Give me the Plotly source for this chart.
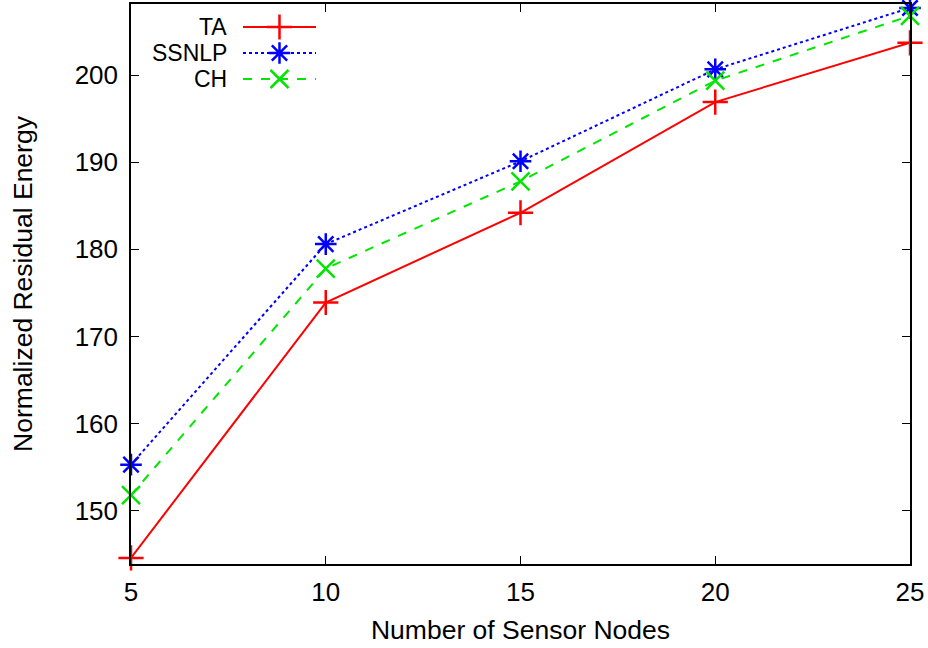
import plotly.graph_objects as go

nodes = [5, 10, 15, 20, 25]
ta = [144.6, 173.9, 184.2, 196.9, 203.7]
ssnlp = [155.3, 180.6, 190.1, 200.65, 207.7]
ch = [151.8, 177.8, 187.8, 199.35, 206.8]
series_names = ["TA", "SSNLP", "CH"]
y_ticks = [150, 160, 170, 180, 190, 200]

FONT = "Liberation Sans, Arial, sans-serif"
styles = [
    dict(color="#ff0000", dash="solid", symbol="cross-thin-open"),
    dict(color="#0000ff", dash="dot", symbol="asterisk-open"),
    dict(color="#00e600", dash="dash", symbol="x-thin-open"),
]

def marker_for(st):
    return dict(symbol=st["symbol"], size=18, color=st["color"],
                line=dict(color=st["color"], width=2.5))

fig = go.Figure()
for name, vals, st in zip(series_names, [ta, ssnlp, ch], styles):
    fig.add_trace(go.Scatter(
        x=nodes, y=vals, name=name, mode="lines+markers",
        line=dict(color=st["color"], width=2, dash=st["dash"]),
        marker=marker_for(st),
        cliponaxis=False, showlegend=False,
    ))

# custom gnuplot-style legend (text on the left, sample on the right)
W, H = 928, 648
ml, mr, mt, mb = 131, 18, 4, 84
pw, ph = W - ml - mr, H - mt - mb
def px(x):
    return (x - ml) / pw
def py(y):
    return 1 - (y - mt) / ph

rows = [27, 53, 79]
for name, st, yr in zip(series_names, styles, rows):
    fig.add_shape(type="line", xref="paper", yref="paper",
                  x0=px(243), x1=px(316), y0=py(yr), y1=py(yr),
                  line=dict(color=st["color"], width=2, dash=st["dash"]))
    fig.add_annotation(xref="paper", yref="paper", x=px(228), y=py(yr),
                       text=name, showarrow=False, xanchor="right",
                       yanchor="middle", borderpad=0,
                       font=dict(family=FONT, size=23, color="black"))
    fig.add_trace(go.Scatter(
        x=[px(279.5)], y=[py(yr)], xaxis="x2", yaxis="y2", mode="markers",
        marker=marker_for(st),
        showlegend=False, hoverinfo="skip", cliponaxis=False,
    ))

axis_common = dict(
    showline=True, linecolor="black", linewidth=1.5, mirror="ticks",
    ticks="inside", ticklen=8, tickwidth=1.2, tickcolor="black",
    showgrid=False, zeroline=False, automargin=False,
    tickfont=dict(family=FONT, size=26, color="black"),
)

fig.update_layout(
    width=W, height=H,
    margin=dict(l=ml, r=mr, t=mt, b=mb),
    plot_bgcolor="white", paper_bgcolor="white",
    font=dict(family=FONT, color="black"),
    xaxis=dict(range=[5, 25], tickvals=nodes, ticklabelstandoff=4,
               **axis_common,
               title=dict(text="Number of Sensor Nodes",
                          font=dict(family=FONT, size=26.5), standoff=14)),
    yaxis=dict(range=[143.9, 208.15], tickvals=y_ticks, ticklabelstandoff=6,
               **axis_common,
               title=dict(text="Normalized Residual Energy",
                          font=dict(family=FONT, size=26.5), standoff=34)),
    xaxis2=dict(range=[0, 1], overlaying="x", visible=False),
    yaxis2=dict(range=[0, 1], overlaying="y", visible=False),
)

fig.write_html("out.html", config={"displayModeBar": False},
               post_script="document.body.style.margin='0';document.body.style.overflow='hidden';")
